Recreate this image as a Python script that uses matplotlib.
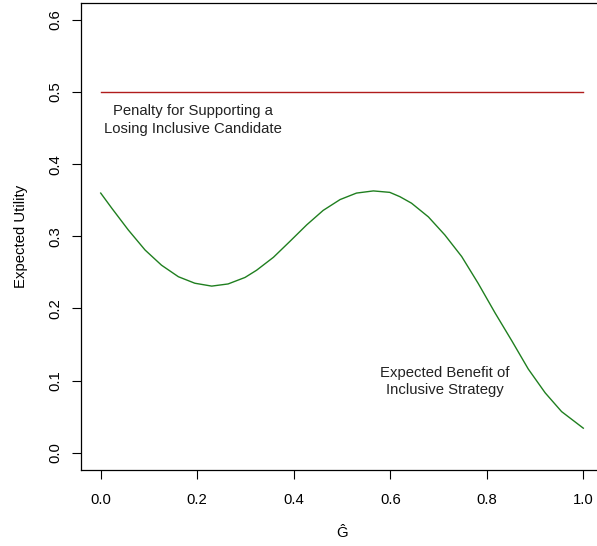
import matplotlib
matplotlib.use("Agg")
import matplotlib.pyplot as plt

g_hat = [0.000, 0.023, 0.057, 0.092, 0.126, 0.161, 0.195, 0.230, 0.264, 0.299,
         0.323, 0.358, 0.392, 0.427, 0.461, 0.496, 0.530, 0.565, 0.599, 0.620,
         0.644, 0.679, 0.713, 0.748, 0.782, 0.817, 0.852, 0.886, 0.921, 0.955, 1.000]
benefit = [0.360, 0.339, 0.309, 0.281, 0.260, 0.244, 0.235, 0.231, 0.234, 0.243,
           0.253, 0.271, 0.293, 0.316, 0.336, 0.351, 0.360, 0.363, 0.361, 0.355,
           0.346, 0.327, 0.302, 0.272, 0.235, 0.194, 0.155, 0.116, 0.083, 0.057, 0.034]
penalty_x = [0.0, 1.0]
penalty_y = [0.5, 0.5]

xticks = [0.0, 0.2, 0.4, 0.6, 0.8, 1.0]
yticks = [0.0, 0.1, 0.2, 0.3, 0.4, 0.5, 0.6]

plt.rcParams['font.family'] = ['Liberation Sans', 'DejaVu Sans']
fs = 10.7

W, H = 597, 546
fig = plt.figure(figsize=(W / 100, H / 100), dpi=100)
left, right, top, bottom = 81.4, 602.6, 2.7, 470.0
ax = fig.add_axes([left / W, (H - bottom) / H, (right - left) / W, (bottom - top) / H])

ax.plot(g_hat, benefit, color='#1f7f1f', lw=1.0, solid_joinstyle='round')
ax.plot(penalty_x, penalty_y, color='#b01c1c', lw=1.0)

ax.set_xlim(-0.04, 1.04)
ax.set_ylim(-0.024, 0.624)
ax.set_xticks(xticks)
ax.set_xticklabels([f"{v:.1f}" for v in xticks], fontsize=fs)
ax.set_yticks(yticks)
ax.set_yticklabels([f"{v:.1f}" for v in yticks], fontsize=fs, rotation=90, va='center')
ax.tick_params(direction='out', length=6.5, width=0.8, colors='black')
ax.tick_params(axis='x', pad=10)
ax.tick_params(axis='y', pad=7)

for s in ax.spines.values():
    s.set_linewidth(0.9)

ax.text(0.191, 0.461, "Penalty for Supporting a\nLosing Inclusive Candidate",
        ha='center', va='center', fontsize=fs, linespacing=1.4, color='#222222')
ax.text(0.713, 0.099, "Expected Benefit of\nInclusive Strategy",
        ha='center', va='center', fontsize=fs, linespacing=1.3, color='#222222')

ax.set_xlabel("Ĝ", fontsize=fs, labelpad=14)
ax.set_ylabel("Expected Utility", fontsize=fs, labelpad=15)

fig.savefig("out.png", dpi=100)
